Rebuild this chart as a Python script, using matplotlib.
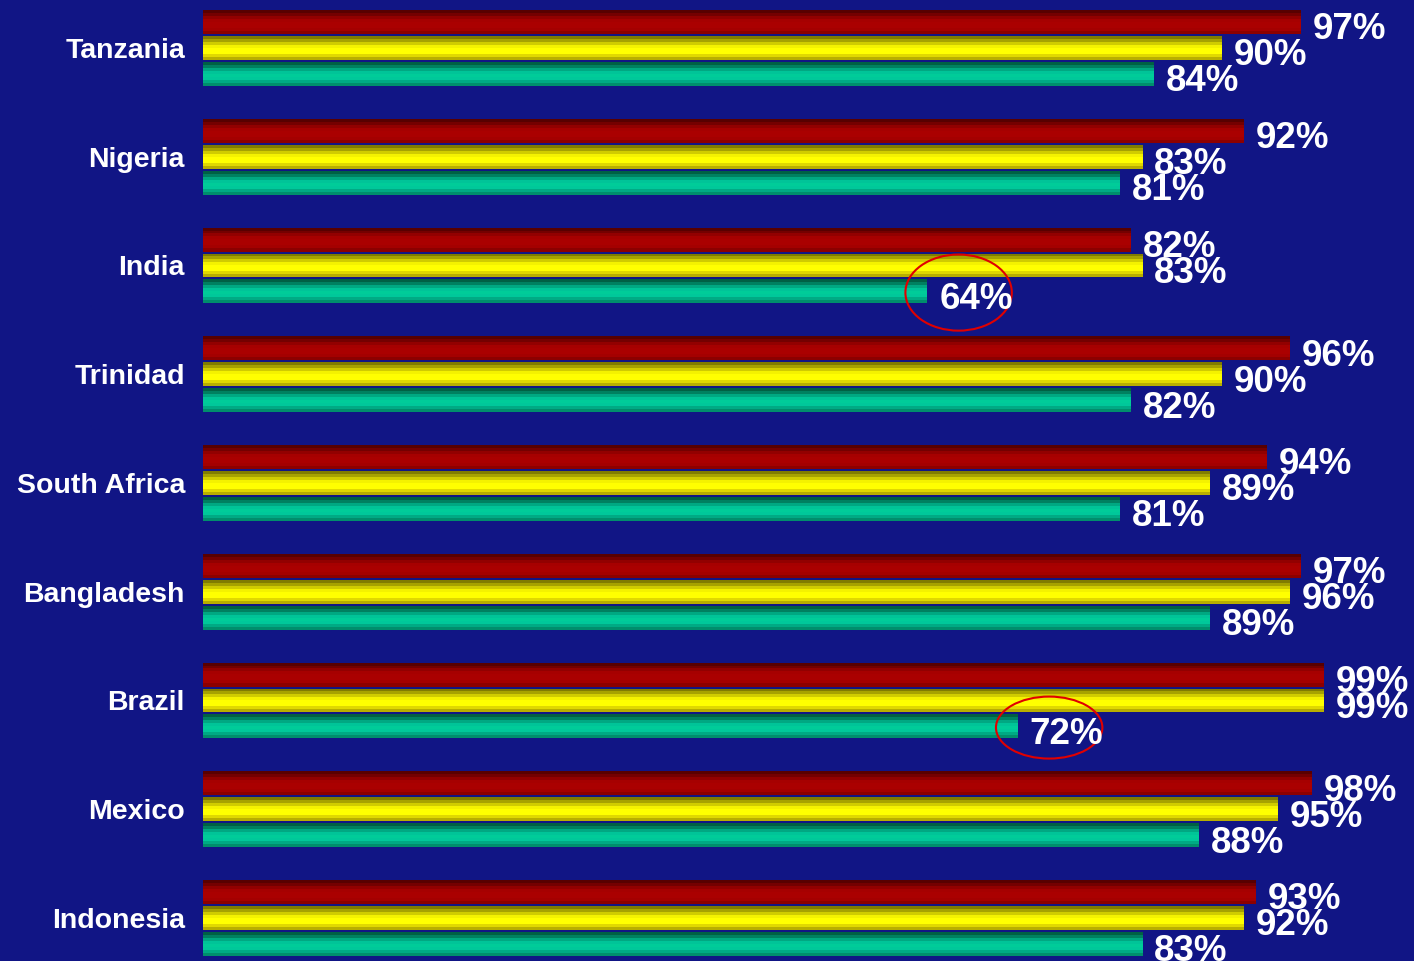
#!/usr/bin/env python3
import matplotlib
matplotlib.use("Agg")
import matplotlib.pyplot as plt
from matplotlib.patches import Ellipse

countries = ["Tanzania", "Nigeria", "India", "Trinidad", "South Africa",
             "Bangladesh", "Brazil", "Mexico", "Indonesia"]
red_vals = [97, 92, 82, 96, 94, 97, 99, 98, 93]
yellow_vals = [90, 83, 83, 90, 89, 96, 99, 95, 92]
green_vals = [84, 81, 64, 82, 81, 89, 72, 88, 83]
circled = [("India", 64), ("Brazil", 72)]

BG = "#111585"

# banded fills, top stripe first
red_bands = ["#580000", "#740000", "#920000", "#a60000", "#aa0000", "#aa0000", "#a40000", "#8c0000"]
yellow_bands = ["#807c00", "#a6a200", "#d0cc00", "#f4f200", "#ffff00", "#ffff00", "#e0d800", "#b8ae00"]
green_bands = ["#006044", "#008060", "#00a882", "#00c498", "#00cc99", "#00c89a", "#00aa84", "#008e6c"]

BAR_H = 0.22
STEP = 0.239

fig = plt.figure(figsize=(14.14, 9.61), dpi=100, facecolor=BG)
ax = fig.add_axes([203 / 1414, 0, 1132 / 1414, 1])
ax.set_facecolor(BG)

def banded_barh(ys, vals, bands):
    n = len(bands)
    h = BAR_H / n
    for k, c in enumerate(bands):
        offs = -BAR_H / 2 + (k + 0.5) * h
        ax.barh([y + offs for y in ys], vals, height=h * 1.02, color=c, linewidth=0)

centers = list(range(len(countries)))
series = [(red_vals, red_bands, -STEP), (yellow_vals, yellow_bands, 0), (green_vals, green_bands, STEP)]
for vals, bands, off in series:
    ys = [c + off for c in centers]
    banded_barh(ys, vals, bands)
    for y, v in zip(ys, vals):
        ax.annotate(f"{v}%", (v, y), xytext=(8.5, -12.5), textcoords="offset points",
                    ha="left", va="baseline", color="white", fontsize=26.5,
                    fontweight="bold", family="Liberation Sans", annotation_clip=False)

for name, v in circled:
    i = countries.index(name)
    h = 0.70 if name == "India" else 0.57
    ax.add_patch(Ellipse((v + 2.75, i + STEP + 0.01), 9.4, h, fill=False,
                         edgecolor="#e00000", linewidth=1.5, clip_on=False))

ax.set_xlim(0, 100)
ax.set_ylim((961 - 48) / 108.75, -48 / 108.75)
ax.set_yticks(centers)
ax.set_yticklabels(countries, color="white", fontsize=20.5, fontweight="bold",
                   family="Liberation Sans")
ax.tick_params(axis="y", length=0, pad=13)
ax.set_xticks([])
for s in ax.spines.values():
    s.set_visible(False)

fig.savefig("out.png", dpi=100, facecolor=BG)
